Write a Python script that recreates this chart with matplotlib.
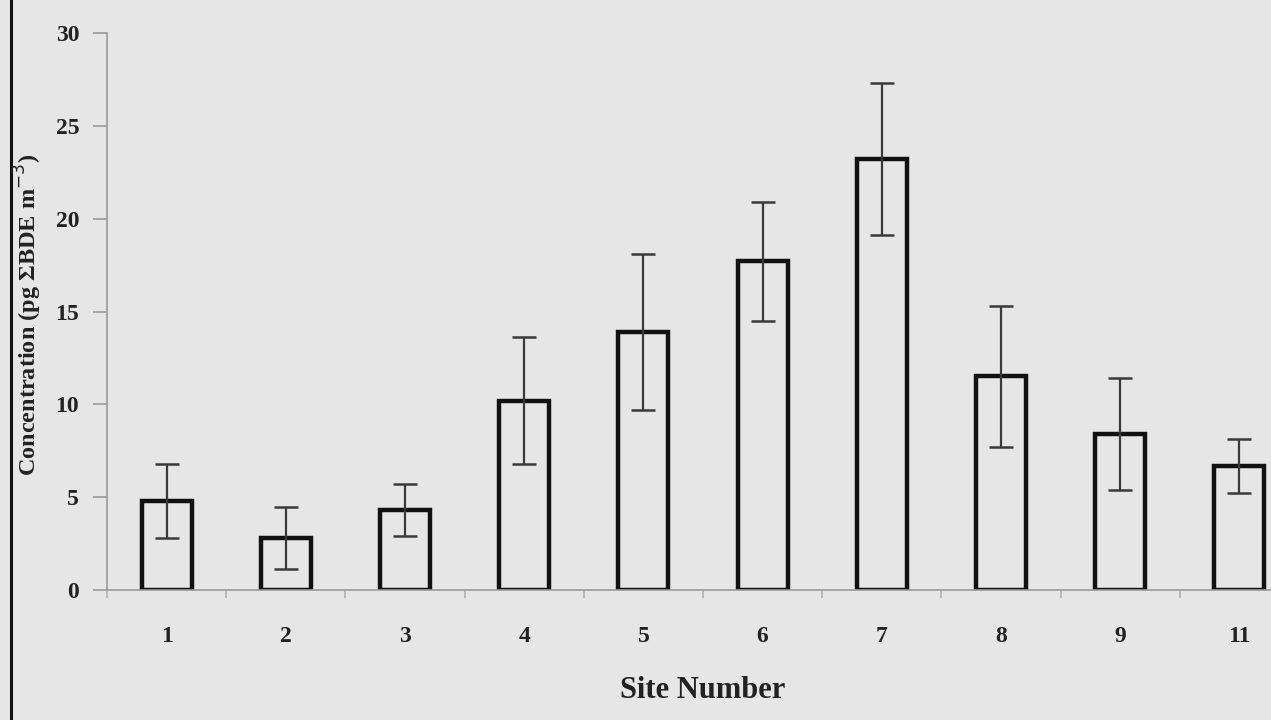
import numpy as np
import matplotlib
matplotlib.use('Agg')
import matplotlib.pyplot as plt
from matplotlib.lines import Line2D

# values
sites = ['1', '2', '3', '4', '5', '6', '7', '8', '9', '11']
conc = [4.8, 2.8, 4.3, 10.2, 13.9, 17.7, 23.2, 11.5, 8.4, 6.7]
sd = [2.0, 1.65, 1.4, 3.4, 4.2, 3.2, 4.1, 3.8, 3.0, 1.45]
yticks = [0, 5, 10, 15, 20, 25, 30]

bg = '#e6e6e6'
plt.rcParams['font.family'] = ['Liberation Serif', 'DejaVu Serif']

fig = plt.figure(figsize=(12.71, 7.2), dpi=100, facecolor=bg)
ax = fig.add_axes([107 / 1271, 130 / 720, 1 - 107 / 1271, 557 / 720])
ax.set_facecolor(bg)

x = np.arange(len(sites))
ax.bar(x, conc, width=0.42, color=bg, edgecolor='#111111', linewidth=3.2, zorder=2)
ax.errorbar(x, conc, yerr=sd, fmt='none', ecolor='#3a3a3a', elinewidth=1.6,
            capsize=8.5, capthick=1.8, zorder=3)

ax.set_xlim(-0.5, (1271 - 107) / 119.2 - 0.5)
ax.set_ylim(0, 30)

for s in ['top', 'right']:
    ax.spines[s].set_visible(False)
for s in ['left', 'bottom']:
    ax.spines[s].set_color('#9a9a9a')
    ax.spines[s].set_linewidth(1.2)

ax.set_yticks(yticks)
ax.set_yticklabels([str(v) for v in yticks], fontsize=17, fontweight='bold', color='#222222')
ax.tick_params(axis='y', length=10, width=1.2, color='#9a9a9a', pad=10)

ax.set_xticks(x)
ax.set_xticklabels(sites, fontsize=17, fontweight='bold', color='#222222')
ax.tick_params(axis='x', which='major', length=0, pad=26)
ax.set_xticks(np.arange(len(sites)) - 0.5, minor=True)
ax.tick_params(axis='x', which='minor', length=6, width=1.2, color='#b0b0b0', direction='out')

ax.set_xlabel('Site Number', fontsize=22, fontweight='bold', color='#222222')
ax.xaxis.set_label_coords((703 - 107) / 1164, -(690 - 590) / 557)
ax.xaxis.label.set_va('center')
fig.text(28 / 1271, 1 - 315 / 720, 'Concentration (pg \u03a3BDE m$^{-3}$)', rotation=90,
         ha='center', va='center', fontsize=17.5, fontweight='bold', color='#222222')

# left frame line of the original figure
fig.add_artist(Line2D([11 / 1271, 11 / 1271], [0, 1], transform=fig.transFigure,
                      color='#111111', linewidth=2.2))

fig.savefig('out.png', dpi=100, facecolor=bg)
